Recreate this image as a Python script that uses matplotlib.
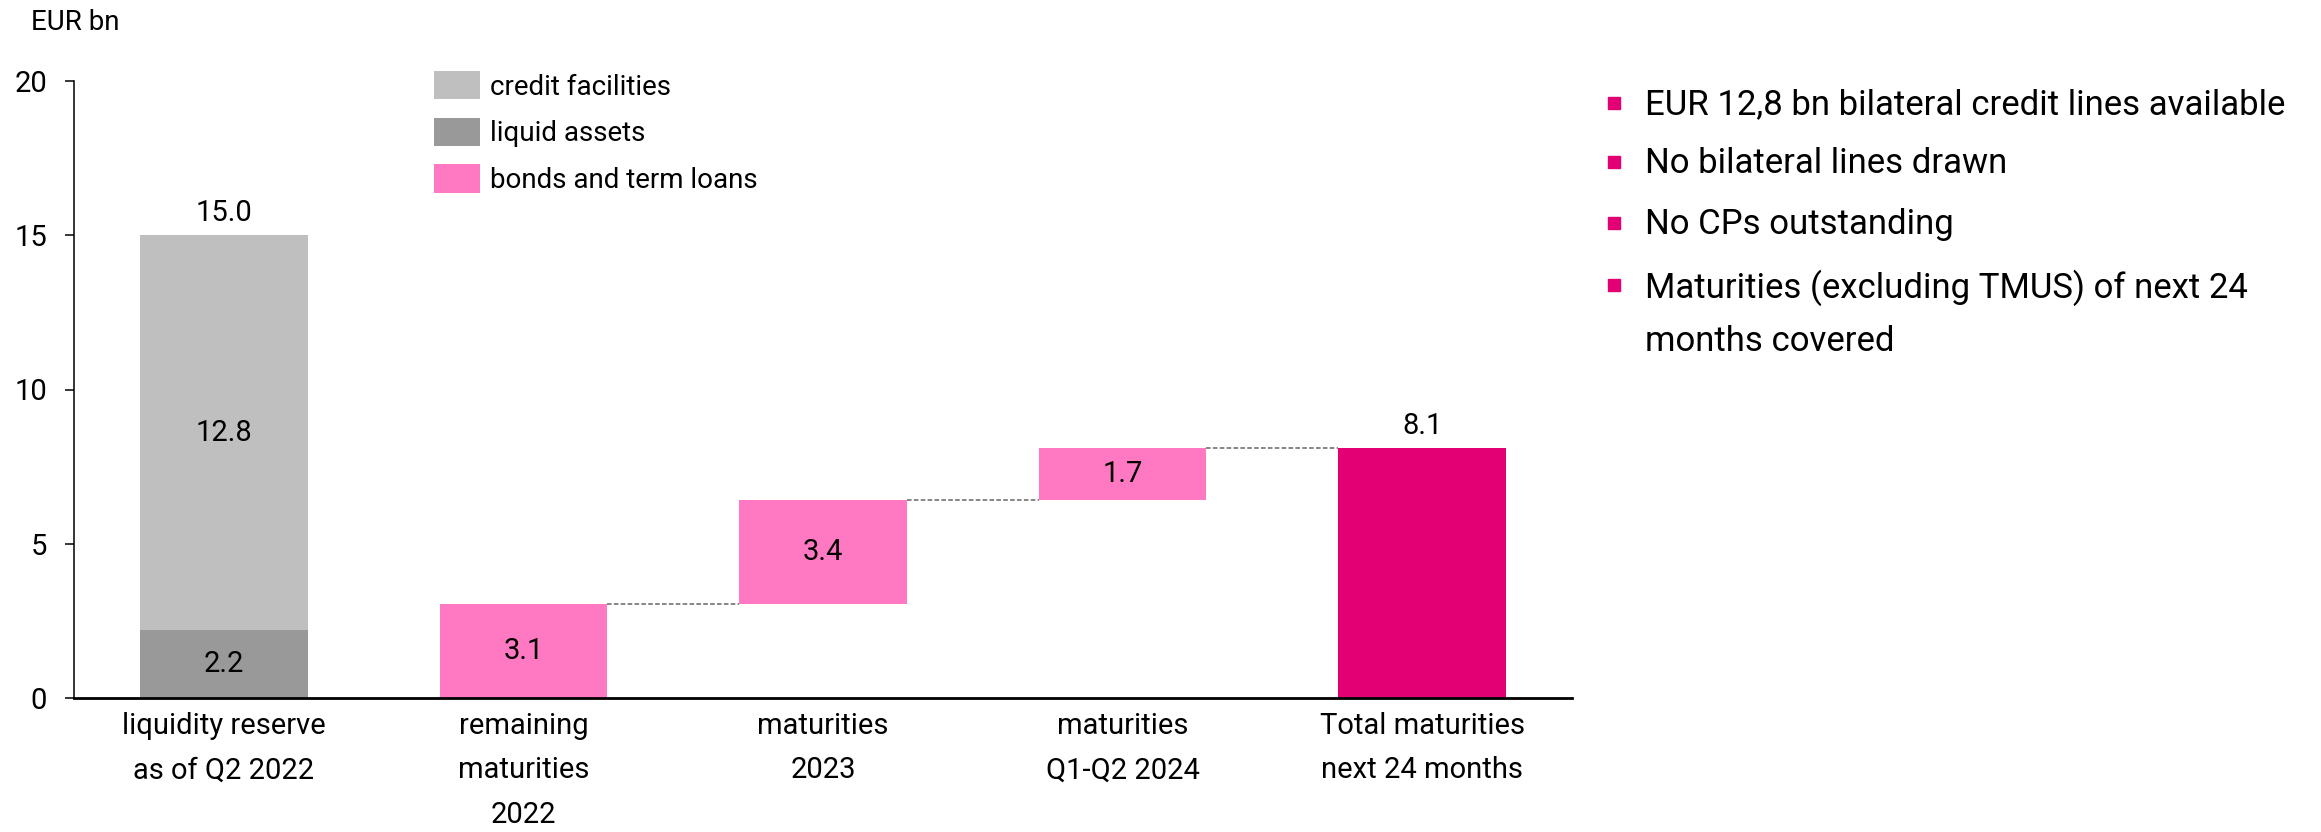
"""Liquidity reserve vs maturities waterfall."""
import matplotlib.pyplot as plt
from matplotlib.patches import Rectangle

plt.rcParams['font.family'] = ['Roboto', 'DejaVu Sans']

categories = ['liquidity reserve\nas of Q2 2022', 'remaining\nmaturities\n2022',
              'maturities\n2023', 'maturities\nQ1-Q2 2024',
              'Total maturities\nnext 24 months']
liquid_assets = 2.2
credit_facilities = 12.8
maturities = [3.06, 3.37, 1.67]   # steps 2022, 2023, Q1-Q2 2024
total_maturities = 8.1
bullets = ['EUR 12,8 bn bilateral credit lines available',
           'No bilateral lines drawn',
           'No CPs outstanding',
           'Maturities (excluding TMUS) of next 24\nmonths covered']

GREY_LIGHT = '#BFBFBF'
GREY_DARK = '#999999'
PINK = '#FF78C2'
MAGENTA = '#E20074'
W = 0.56
FS = 21

fig = plt.figure(figsize=(23.21, 8.32), dpi=100)
ax = fig.add_axes([74 / 2321, 1 - 698 / 832, (1572 - 74) / 2321, (698 - 81) / 832])

# liquidity reserve
b_liq = ax.bar(0, liquid_assets, W, color=GREY_DARK, label='liquid assets')
b_cred = ax.bar(0, credit_facilities, W, bottom=liquid_assets, color=GREY_LIGHT,
                label='credit facilities')
ax.text(0, liquid_assets / 2, f'{liquid_assets:.1f}', ha='center', va='center', fontsize=FS)
ax.text(0, liquid_assets + credit_facilities / 2, f'{credit_facilities:.1f}',
        ha='center', va='center', fontsize=FS)
ax.annotate(f'{liquid_assets + credit_facilities:.1f}', (0, liquid_assets + credit_facilities),
            xytext=(0, 6), textcoords='offset points', ha='center', va='bottom', fontsize=FS)

# maturities steps
base = 0
pink_bars = []
for i, v in enumerate(maturities):
    x = i + 1
    pink_bars.append(ax.bar(x, v, W, bottom=base, color=PINK, label='bonds and term loans'))
    ax.text(x, base + v / 2, f'{v:.1f}', ha='center', va='center', fontsize=FS)
    base += v
    ax.plot([x + W / 2, x + 1 - W / 2], [base, base], color='#666666', lw=1.1,
            ls=(0, (3, 1.5)), zorder=1)

# total
ax.bar(4, total_maturities, W, color=MAGENTA)
ax.annotate(f'{total_maturities:.1f}', (4, total_maturities), xytext=(0, 6),
            textcoords='offset points', ha='center', va='bottom', fontsize=FS)

ax.set_xlim(-0.5, 4.5)
ax.set_ylim(0, 20)
ax.set_yticks([0, 5, 10, 15, 20])
ax.set_xticks(range(5))
ax.set_xticklabels(categories, fontsize=FS, linespacing=1.75)
ax.tick_params(axis='x', length=0, pad=10)
ax.tick_params(axis='y', length=6.5, width=1.1, pad=13, labelsize=FS, direction='out')
for s in ['top', 'right']:
    ax.spines[s].set_visible(False)
ax.spines['left'].set_linewidth(1.1)
ax.spines['bottom'].set_linewidth(2)
ax.spines['bottom'].set_zorder(5)

fig.text(31 / 2321, 1 - 22 / 832, 'EUR bn', fontsize=20, va='center', ha='left')

ax.legend(handles=[b_cred, b_liq, pink_bars[0]],
          labels=['credit facilities', 'liquid assets', 'bonds and term loans'],
          loc='upper left', bbox_to_anchor=(434 / 2321, 1 - 71 / 832),
          bbox_transform=fig.transFigure, frameon=False, fontsize=20,
          borderpad=0, borderaxespad=0, handlelength=1.65, handleheight=1.19,
          handletextpad=0.36, labelspacing=0.62)

# bullet points on the right
ys = [103, 162, 223, 285]
for y, t in zip(ys, bullets):
    fig.add_artist(Rectangle((1608 / 2321, 1 - (y + 6) / 832), 12 / 2321, 12 / 832,
                             transform=fig.transFigure, color=MAGENTA))
    fig.text(1645 / 2321, 1 - (y - 15) / 832, t, fontsize=25, va='top', ha='left',
             linespacing=1.72)

plt.savefig('out.png', dpi=100)
